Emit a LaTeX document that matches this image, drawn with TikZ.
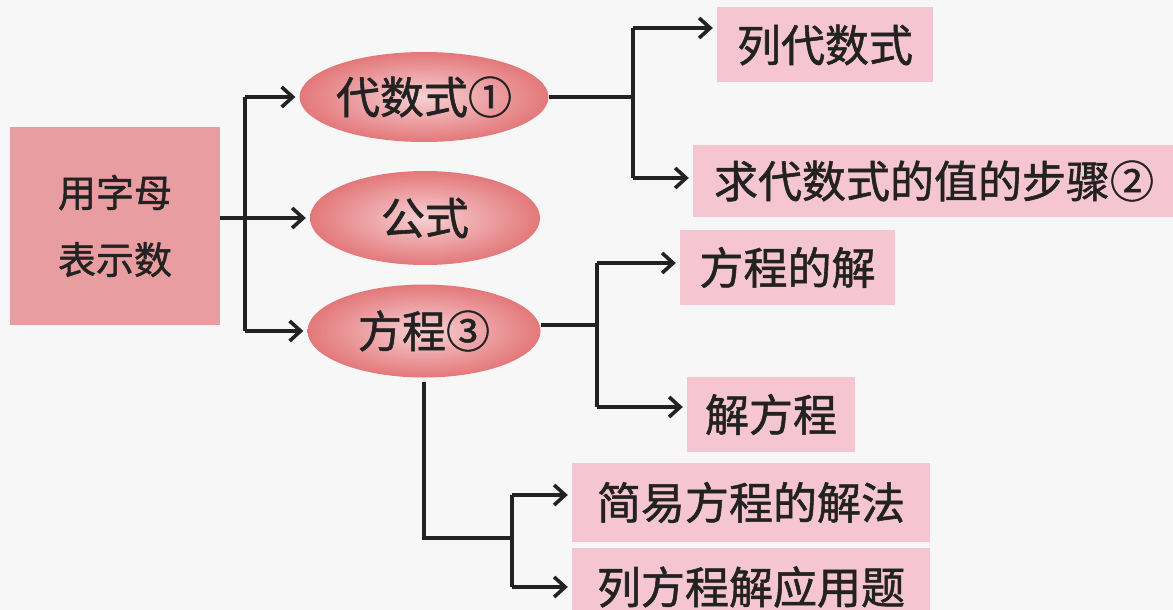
\documentclass[tikz,border=0pt]{standalone}
\usepackage{fontspec}
\newfontfamily\cjk[FakeBold=1.2]{Noto Sans CJK SC}
\usetikzlibrary{arrows.meta,shapes.geometric,calc}
\definecolor{bg}{HTML}{F8F7F7}
\definecolor{rootpink}{HTML}{E89DA0}
\definecolor{boxpink}{HTML}{F5C6D2}
\definecolor{elledge}{HTML}{E3787A}
\definecolor{ellmid}{HTML}{F7D0D3}
\definecolor{ink}{HTML}{222222}
\tikzset{
  rootbox/.style={rectangle, fill=rootpink, inner sep=0pt, font=\cjk\fontsize{38}{67}\selectfont, align=center, text=ink},
  ellbox/.style={ellipse, inner sep=0pt, shading=radial, inner color=ellmid, outer color=elledge, font=\cjk\fontsize{44}{50}\selectfont, text=ink},
  leafbox/.style={rectangle, fill=boxpink, inner sep=0pt, font=\cjk\fontsize{44}{50}\selectfont, text=ink},
  conn/.style={draw=ink, line width=3.6pt},
  arr/.style={conn, -{Straight Barb[length=11pt,width=20pt,line width=3.6pt]}, shorten >=4pt}
}
\begin{document}
\begin{tikzpicture}[x=1pt,y=-1pt]
\fill[bg] (0,0) rectangle (1173,610);
\useasboundingbox (0,0) rectangle (1173,610);
% nodes
\node[rootbox, minimum width=210pt, minimum height=198pt] (root) at (115,226) {用字母\\表示数};
\node[ellbox, minimum width=232pt, minimum height=90pt] (e1) at (424,97) {代数式①};
\node[ellbox, minimum width=230pt, minimum height=94pt] (e2) at (425,218) {公式};
\node[ellbox, minimum width=233pt, minimum height=93pt] (e3) at (424,331) {方程③};
\node[leafbox, minimum width=216pt, minimum height=75pt] (b1) at (825,45) {列代数式};
\node[leafbox, minimum width=482pt, minimum height=72pt] (b2) at (934,181) {求代数式的值的步骤②};
\node[leafbox, minimum width=215pt, minimum height=75pt] (b3) at (787.5,267.5) {方程的解};
\node[leafbox, minimum width=168pt, minimum height=75pt] (b4) at (771,414.5) {解方程};
\node[leafbox, minimum width=358pt, minimum height=79pt] (b5) at (751,502.5) {简易方程的解法};
\node[leafbox, minimum width=358pt, minimum height=78pt] (b6) at (751,587) {列方程解应用题};
% arrow target points on box edges
\coordinate (t1) at ([yshift=17pt]b1.west);
\coordinate (t2) at ([yshift=3pt]b2.west);
\coordinate (t3) at ([yshift=4.5pt]b3.west);
\coordinate (t4) at ([yshift=7.5pt]b4.west);
\coordinate (t5) at ([yshift=7.5pt]b5.west);
\coordinate (t6) at (b6.west);
\coordinate (s3) at ([yshift=6pt]e3.east);
% junction coordinates
\coordinate (jA) at (245,0);
\coordinate (jB) at (633,0);
\coordinate (jC) at (597,0);
\coordinate (jD) at (512,538);
% root to ellipses
\draw[conn] (root.east |- e2.west) -- (jA |- e2.west);
\draw[arr] (jA |- e2.west) -- (e2.west);
\draw[conn] (jA |- e1.west) -- (jA |- e3.west);
\draw[arr] (jA |- e1.west) -- (e1.west);
\draw[arr] (jA |- e3.west) -- (e3.west);
% e1 to leaves
\draw[conn] (e1.east) -- (e1.east -| jB);
\draw[conn] (jB |- t1) -- (jB |- t2);
\draw[arr] (jB |- t1) -- (t1);
\draw[arr] (jB |- t2) -- (t2);
% e3 to leaves
\draw[conn] (s3) -- (jC |- s3);
\draw[conn] (jC |- t3) -- (jC |- t4);
\draw[arr] (jC |- t3) -- (t3);
\draw[arr] (jC |- t4) -- (t4);
% e3 down to lower leaves
\draw[conn] ([yshift=-4pt]e3.south) |- (jD);
\draw[conn] (jD |- t5) -- (jD |- t6);
\draw[arr] (jD |- t5) -- (t5);
\draw[arr] (jD |- t6) -- (t6);
\end{tikzpicture}
\end{document}
